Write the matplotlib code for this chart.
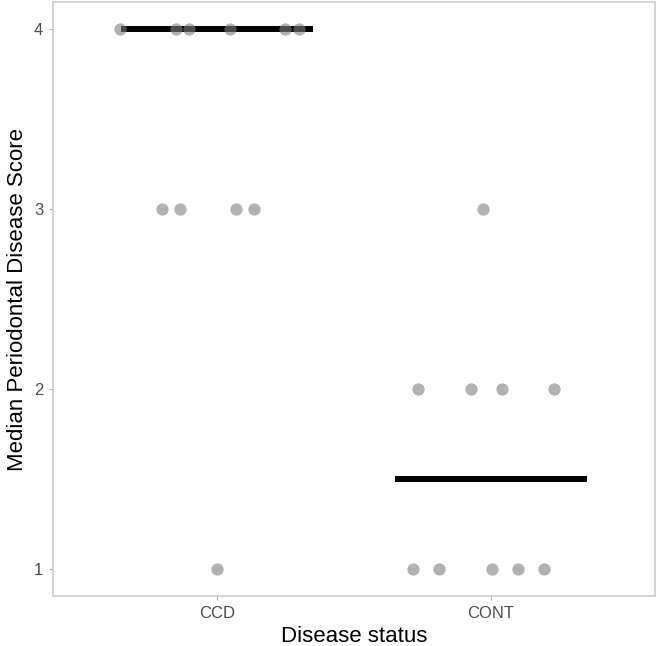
import numpy as np
import matplotlib
matplotlib.use("Agg")
import matplotlib.pyplot as plt

plt.rcParams["font.family"] = ["Liberation Sans", "DejaVu Sans"]

# data
groups = ["CCD", "CONT"]
ccd_x = [0.646, 0.850, 0.898, 1.047, 1.248, 1.299, 0.799, 0.865, 1.069, 1.135, 1.000]
ccd_y = [4, 4, 4, 4, 4, 4, 3, 3, 3, 3, 1]
cont_x = [1.971, 1.734, 1.927, 2.040, 2.230, 1.715, 1.810, 2.004, 2.099, 2.193]
cont_y = [3, 2, 2, 2, 2, 1, 1, 1, 1, 1]
medians = [4.0, 1.5]

fig = plt.figure(figsize=(6.58, 6.46), dpi=100)
ax = fig.add_axes([0.0805, 0.0774, 0.9149, 0.9195])

# median bars
for i, m in enumerate(medians):
    ax.plot([i + 1 - 0.35, i + 1 + 0.35], [m, m], color="black",
            linewidth=4.3, solid_capstyle="butt", zorder=2)

# jittered points
ax.scatter(ccd_x, ccd_y, s=78, color="#7f7f7f", alpha=0.6,
           linewidths=0, zorder=3)
ax.scatter(cont_x, cont_y, s=78, color="#7f7f7f", alpha=0.6,
           linewidths=0, zorder=3)

ax.set_xlim(0.4, 2.6)
ax.set_ylim(0.85, 4.15)
ax.set_xticks([1, 2])
ax.set_xticklabels(groups)
ax.set_yticks([1, 2, 3, 4])

for sp in ax.spines.values():
    sp.set_color("#cccccc")
    sp.set_linewidth(1.2)

ax.tick_params(axis="both", length=3, width=0.8, color="#b3b3b3",
               labelsize=12, labelcolor="#4d4d4d", pad=4)

ax.set_xlabel("Disease status", fontsize=16, labelpad=4)
ax.set_ylabel("Median Periodontal Disease Score", fontsize=16, labelpad=4)

fig.savefig("out.png", dpi=100)
